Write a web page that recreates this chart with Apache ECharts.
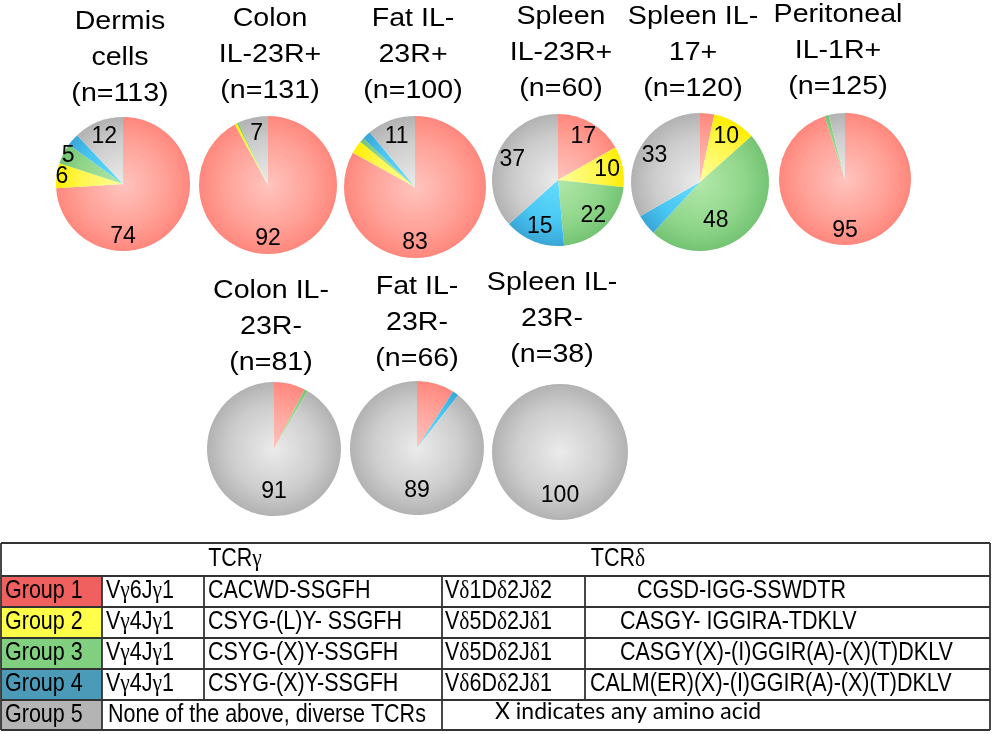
<!DOCTYPE html>
<html style="height: 100%">
  <head>
    <meta charset="utf-8" />
  </head>
  <body style="height: 100%; margin: 0; background: #fff">
    <div id="container" style="width: 992px; height: 734px"></div>

    <script
      type="text/javascript"
      src="https://cdn.jsdelivr.net/npm/echarts@6/dist/echarts.min.js"
    ></script>

    <script type="text/javascript">
      // ---- data ----
      var groupNames = ["Group 1", "Group 2", "Group 3", "Group 4", "Group 5"];

      var pieTitles = [
        "Dermis\ncells\n(n=113)",
        "Colon\nIL-23R+\n(n=131)",
        "Fat IL-\n23R+\n(n=100)",
        "Spleen\nIL-23R+\n(n=60)",
        "Spleen IL-\n17+\n(n=120)",
        "Peritoneal\nIL-1R+\n(n=125)",
        "Colon IL-\n23R-\n(n=81)",
        "Fat IL-\n23R-\n(n=66)",
        "Spleen IL-\n23R-\n(n=38)"
      ];

      // % of clones per group (Group 1..5)
      var dermisCells = [74, 6, 5, 3, 12];
      var colonPos = [92, 0.6, 0.4, 0, 7];
      var fatPos = [83, 3, 1, 2, 11];
      var spleenPos = [17, 10, 22, 15, 37];
      var spleenIl17 = [3.3, 10, 48, 4.8, 33];
      var peritonealPos = [95, 0, 1, 0, 4];
      var colonNeg = [7.5, 0, 0.8, 0, 91];
      var fatNeg = [9, 0, 0, 1.5, 89];
      var spleenNeg = [0, 0, 0, 0, 100];

      var pieValues = [
        dermisCells, colonPos, fatPos, spleenPos, spleenIl17,
        peritonealPos, colonNeg, fatNeg, spleenNeg
      ];

      // groups whose number is printed on the slice
      var labelledGroups = [
        [0, 1, 2, 4], [0, 4], [0, 4], [0, 1, 2, 3, 4], [1, 2, 4],
        [0], [4], [4], [4]
      ];

      // table
      var tcrHeader = ["TCRγ", "TCRδ"];
      var vGamma = ["Vγ6Jγ1", "Vγ4Jγ1", "Vγ4Jγ1", "Vγ4Jγ1"];
      var cdr3Gamma = ["CACWD-SSGFH", "CSYG-(L)Y- SSGFH", "CSYG-(X)Y-SSGFH", "CSYG-(X)Y-SSGFH"];
      var vDelta = ["Vδ1Dδ2Jδ2", "Vδ5Dδ2Jδ1", "Vδ5Dδ2Jδ1", "Vδ6Dδ2Jδ1"];
      var cdr3Delta = [
        "CGSD-IGG-SSWDTR",
        "CASGY- IGGIRA-TDKLV",
        "CASGY(X)-(I)GGIR(A)-(X)(T)DKLV",
        "CALM(ER)(X)-(I)GGIR(A)-(X)(T)DKLV"
      ];
      var group5Notes = ["None of the above, diverse TCRs", "X indicates any amino acid"];

      // ---- layout / style ----
      var pieLayout = [
        { cx: 123, cy: 184, r: 67, tx: 120, ty: 4, row: 0 },
        { cx: 268, cy: 185, r: 69, tx: 270, ty: 1, row: 0 },
        { cx: 415, cy: 187, r: 71, tx: 413, ty: 1, row: 0 },
        { cx: 558, cy: 180, r: 66, tx: 561, ty: -1, row: 0 },
        { cx: 700, cy: 182, r: 69, tx: 693, ty: -1, row: 0 },
        { cx: 845, cy: 179, r: 66, tx: 838, ty: -3, row: 0 },
        { cx: 274, cy: 449, r: 67, tx: 271, ty: 273, row: 1 },
        { cx: 417, cy: 448, r: 67, tx: 417, ty: 269, row: 1 },
        { cx: 560, cy: 452, r: 68, tx: 552, ty: 265, row: 1 }
      ];

      var groupShades = [
        ["#ffc4be", "#ffa096", "#ff877d"],
        ["#ffff9c", "#fff64a", "#ffee00"],
        ["#b2e8aa", "#90d68a", "#74c474"],
        ["#66deff", "#48c6f2", "#3aa6d6"],
        ["#ebebeb", "#cdcdcd", "#b2b2b2"]
      ];
      var cellColors = ["#f0605e", "#ffff4a", "#80d080", "#4a9ab8", "#b4b4b4"];

      var dom = document.getElementById("container");
      var myChart = echarts.init(dom);

      function shade(g, L) {
        var s = groupShades[g];
        return {
          type: "radial",
          x: L.cx,
          y: L.cy,
          r: L.r,
          global: true,
          colorStops: [
            { offset: 0, color: s[0] },
            { offset: 0.65, color: s[1] },
            { offset: 1, color: s[2] }
          ]
        };
      }

      function labelSpot(vals, idx, L) {
        var total = 0, before = 0;
        for (var i = 0; i < vals.length; i++) {
          total += vals[i];
          if (i < idx) before += vals[i];
        }
        var share = vals[idx] / total;
        var ang = ((before + vals[idx] / 2) / total) * Math.PI * 2;
        var k;
        if (share >= 0.6) {
          ang = Math.PI;
          k = L.row ? 0.64 : 0.78;
        } else if (share <= 0.065) {
          k = 0.92;
        } else if (share >= 0.4) {
          // wide slice: Excel pulls the number toward the bottom
          ang = (ang + Math.PI) / 2;
          k = 0.6;
        } else {
          k = 0.76;
        }
        return {
          x: L.cx + k * L.r * Math.sin(ang),
          y: L.cy - k * L.r * Math.cos(ang)
        };
      }

      var series = pieValues.map(function (vals, i) {
        var L = pieLayout[i];
        return {
          type: "pie",
          silent: true,
          animation: false,
          startAngle: 90,
          clockwise: true,
          center: [L.cx, L.cy],
          radius: L.r,
          avoidLabelOverlap: false,
          labelLine: { show: false },
          label: {
            show: true,
            position: "inside",
            rotate: 0,
            color: "#000",
            fontSize: 23,
            fontFamily: "Liberation Sans",
            formatter: function (p) {
              return labelledGroups[i].indexOf(p.dataIndex) >= 0
                ? String(Math.round(p.value))
                : "";
            }
          },
          labelLayout: function (p) {
            var s = labelSpot(vals, p.dataIndex, L);
            return { x: s.x, y: s.y, align: "center", verticalAlign: "middle" };
          },
          itemStyle: { borderWidth: 0 },
          emphasis: { disabled: true },
          data: vals.map(function (v, g) {
            return { name: groupNames[g], value: v, itemStyle: { color: shade(g, L) } };
          })
        };
      });

      // ---- titles and table as graphics ----
      var graphics = [];

      pieTitles.forEach(function (t, i) {
        var L = pieLayout[i];
        graphics.push({
          type: "text",
          x: L.tx,
          y: L.ty,
          scaleX: 1.1,
          silent: true,
          style: {
            text: t,
            fontSize: 26,
            fontFamily: "Liberation Sans",
            lineHeight: 36,
            fill: "#000",
            align: "center",
            verticalAlign: "top"
          }
        });
      });

      var rowY = [543, 576, 607, 638, 669, 700, 730];
      var colX = [1, 102, 204, 442, 585, 990];
      var lineColor = "#333";

      function greek(s) {
        return s.replace(/([γδ])/g, "{g|$1}");
      }
      function cellText(str, x, row, opts) {
        opts = opts || {};
        graphics.push({
          type: "text",
          x: x,
          y: (rowY[row] + rowY[row + 1]) / 2 + (opts.dy || 0),
          scaleX: opts.scaleX || 0.86,
          silent: true,
          style: {
            text: greek(str),
            fontSize: opts.fontSize || 25,
            fontFamily: opts.fontFamily || "Liberation Sans",
            fill: "#000",
            align: opts.align || "left",
            verticalAlign: "middle",
            rich: {
              g: { fontSize: opts.fontSize || 25, fontFamily: "Liberation Serif" }
            }
          }
        });
      }
      function hLine(y, x1, x2) {
        graphics.push({
          type: "line", silent: true,
          shape: { x1: x1, y1: y, x2: x2, y2: y },
          style: { stroke: lineColor, lineWidth: 1.8 }
        });
      }
      function vLine(x, y1, y2) {
        graphics.push({
          type: "line", silent: true,
          shape: { x1: x, y1: y1, x2: x, y2: y2 },
          style: { stroke: lineColor, lineWidth: 1.8 }
        });
      }

      // group colour cells
      groupNames.forEach(function (g, i) {
        graphics.push({
          type: "rect", silent: true,
          shape: { x: colX[0], y: rowY[i + 1], width: colX[1] - colX[0], height: rowY[i + 2] - rowY[i + 1] },
          style: { fill: cellColors[i] }
        });
      });

      // grid
      rowY.forEach(function (y) { hLine(y, colX[0], colX[5]); });
      vLine(colX[0], rowY[0], rowY[6]);
      vLine(colX[5], rowY[0], rowY[6]);
      vLine(colX[1], rowY[1], rowY[6]);
      vLine(colX[2], rowY[1], rowY[5]);
      vLine(colX[3], rowY[1], rowY[6]);
      vLine(colX[4], rowY[1], rowY[5]);

      // header
      cellText(tcrHeader[0], 235, 0, { align: "center" });
      cellText(tcrHeader[1], 618, 0, { align: "center" });

      // body
      var deltaIndent = [637, 620, 620, 590];
      groupNames.forEach(function (g, i) {
        cellText(g, 5, i + 1);
        if (i < 4) {
          cellText(vGamma[i], 106, i + 1);
          cellText(cdr3Gamma[i], 208, i + 1);
          cellText(vDelta[i], 445, i + 1);
          cellText(cdr3Delta[i], deltaIndent[i], i + 1);
        }
      });
      cellText(group5Notes[0], 108, 5);
      cellText(group5Notes[1], 495, 5, { fontFamily: "Lato", fontSize: 23, scaleX: 1, dy: -3 });

      var option = {
        backgroundColor: "#fff",
        series: series,
        graphic: graphics
      };

      option && myChart.setOption(option);
    </script>
  </body>
</html>
